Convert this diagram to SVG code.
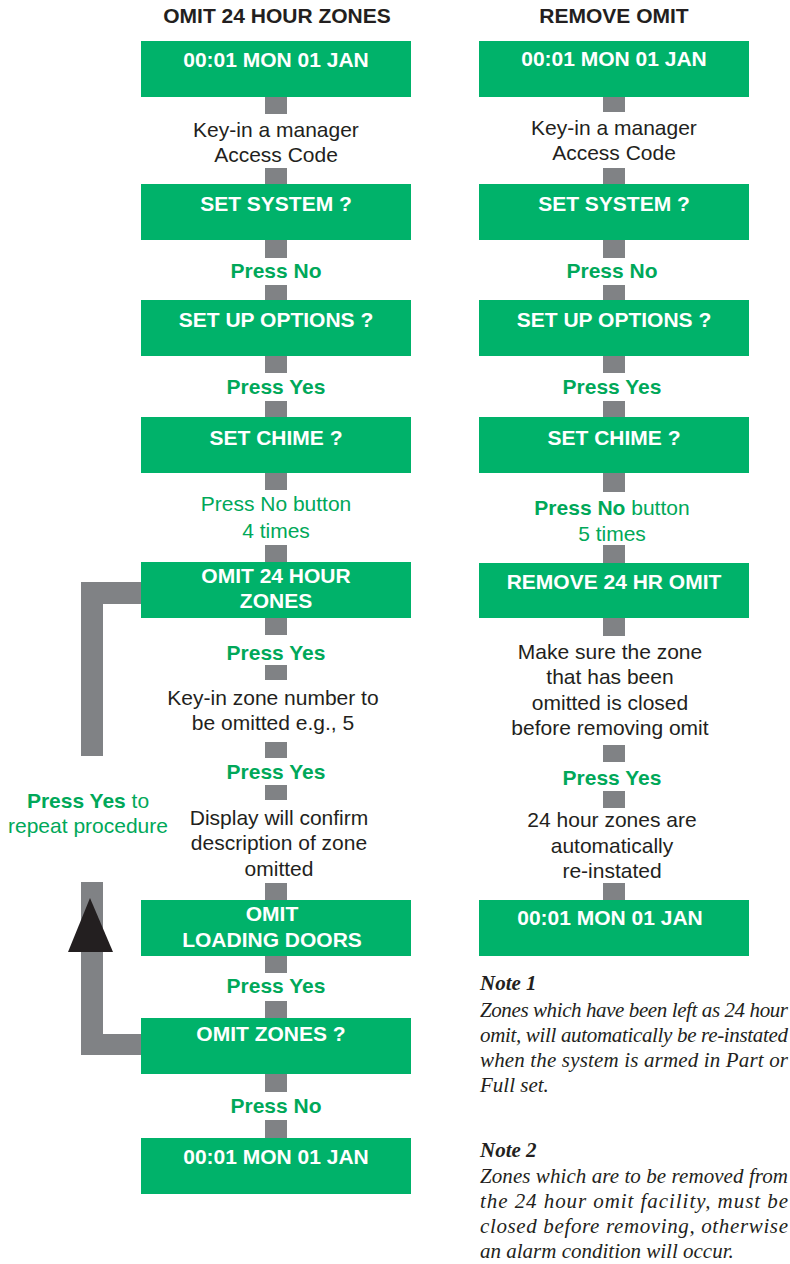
<svg xmlns="http://www.w3.org/2000/svg" width="790" height="1264" viewBox="0 0 790 1264">
<style>
.box{fill:#00b26a}
.conn{fill:#808285}
.bt{font-family:"Liberation Sans",Arial,sans-serif;font-weight:bold;font-size:21px;fill:#ffffff;text-anchor:middle}
.tt{font-family:"Liberation Sans",Arial,sans-serif;font-weight:bold;font-size:21px;fill:#231f20;text-anchor:middle}
.t{font-family:"Liberation Sans",Arial,sans-serif;font-size:21px;fill:#231f20;text-anchor:middle}
.g{font-family:"Liberation Sans",Arial,sans-serif;font-size:21px;fill:#00a859;text-anchor:middle}
.gb{font-family:"Liberation Sans",Arial,sans-serif;font-size:21px;font-weight:bold;fill:#00a859;text-anchor:middle}
.b{font-weight:bold}
.nh{font-family:"Liberation Serif","Times New Roman",serif;font-style:italic;font-weight:bold;font-size:21px;fill:#231f20}
.n{font-family:"Liberation Serif","Times New Roman",serif;font-style:italic;font-size:21px;fill:#231f20}
</style>
<rect width="790" height="1264" fill="#ffffff"/>

<g id="connectors">
  <!-- left column -->
  <rect class="conn" x="265" y="97" width="22" height="17"/>
  <rect class="conn" x="265" y="168" width="22" height="17"/>
  <rect class="conn" x="265" y="240" width="22" height="18"/>
  <rect class="conn" x="265" y="285" width="22" height="15"/>
  <rect class="conn" x="265" y="356" width="22" height="17"/>
  <rect class="conn" x="265" y="401" width="22" height="16"/>
  <rect class="conn" x="265" y="473" width="22" height="17"/>
  <rect class="conn" x="265" y="545" width="22" height="17"/>
  <rect class="conn" x="265" y="618" width="22" height="17"/>
  <rect class="conn" x="265" y="665" width="22" height="15"/>
  <rect class="conn" x="265" y="742" width="22" height="16"/>
  <rect class="conn" x="265" y="785" width="22" height="15"/>
  <rect class="conn" x="265" y="883" width="22" height="17"/>
  <rect class="conn" x="265" y="956" width="22" height="17"/>
  <rect class="conn" x="265" y="1001" width="22" height="17"/>
  <rect class="conn" x="265" y="1074" width="22" height="18"/>
  <rect class="conn" x="265" y="1120" width="22" height="18"/>
  <!-- right column -->
  <rect class="conn" x="603" y="97" width="22" height="15"/>
  <rect class="conn" x="603" y="168" width="22" height="16"/>
  <rect class="conn" x="603" y="240" width="22" height="18"/>
  <rect class="conn" x="603" y="285" width="22" height="15"/>
  <rect class="conn" x="603" y="356" width="22" height="17"/>
  <rect class="conn" x="603" y="401" width="22" height="16"/>
  <rect class="conn" x="603" y="473" width="22" height="19"/>
  <rect class="conn" x="603" y="545" width="22" height="18"/>
  <rect class="conn" x="603" y="618" width="22" height="18"/>
  <rect class="conn" x="603" y="745" width="22" height="17"/>
  <rect class="conn" x="603" y="791" width="22" height="17"/>
  <rect class="conn" x="603" y="883" width="22" height="17"/>
  <!-- repeat loop -->
  <path class="conn" d="M141,582 L81,582 L81,756 L103,756 L103,604 L141,604 Z"/>
  <path class="conn" d="M141,1034 L103,1034 L103,882 L81,882 L81,1055 L141,1055 Z"/>
  <polygon points="90,898 113,952 68,952" fill="#231f20"/>
</g>

<text class="tt" x="277" y="23">OMIT 24 HOUR ZONES</text>
<text class="tt" x="614" y="23">REMOVE OMIT</text>

<!-- left column nodes -->
<g id="l-box1"><rect class="box" x="141" y="41" width="270" height="56"/><text class="bt" x="276" y="67">00:01 MON 01 JAN</text></g>
<g id="l-step1"><text class="t" x="276" y="137">Key-in a manager</text><text class="t" x="276" y="162">Access Code</text></g>
<g id="l-box2"><rect class="box" x="141" y="184" width="270" height="56"/><text class="bt" x="276" y="211">SET SYSTEM ?</text></g>
<g id="l-step2"><text class="gb" x="276" y="278">Press No</text></g>
<g id="l-box3"><rect class="box" x="141" y="300" width="270" height="56"/><text class="bt" x="276" y="327">SET UP OPTIONS ?</text></g>
<g id="l-step3"><text class="gb" x="276" y="394">Press Yes</text></g>
<g id="l-box4"><rect class="box" x="141" y="417" width="270" height="56"/><text class="bt" x="276" y="445">SET CHIME ?</text></g>
<g id="l-step4"><text class="g" x="276" y="511">Press No button</text><text class="g" x="276" y="538">4 times</text></g>
<g id="l-box5"><rect class="box" x="141" y="562" width="270" height="56"/><text class="bt" x="276" y="583">OMIT 24 HOUR</text><text class="bt" x="276" y="608">ZONES</text></g>
<g id="l-step5"><text class="gb" x="276" y="660">Press Yes</text></g>
<g id="l-step6"><text class="t" x="273" y="705">Key-in zone number to</text><text class="t" x="273" y="730">be omitted e.g., 5</text></g>
<g id="l-step7"><text class="gb" x="276" y="779">Press Yes</text></g>
<g id="l-step8"><text class="t" x="279" y="825">Display will confirm</text><text class="t" x="279" y="850">description of zone</text><text class="t" x="279" y="876">omitted</text></g>
<g id="l-box6"><rect class="box" x="141" y="900" width="270" height="56"/><text class="bt" x="272" y="921">OMIT</text><text class="bt" x="272" y="947">LOADING DOORS</text></g>
<g id="l-step9"><text class="gb" x="276" y="993">Press Yes</text></g>
<g id="l-box7"><rect class="box" x="141" y="1018" width="270" height="56"/><text class="bt" x="271" y="1041">OMIT ZONES ?</text></g>
<g id="l-step10"><text class="gb" x="276" y="1113">Press No</text></g>
<g id="l-box8"><rect class="box" x="141" y="1138" width="270" height="56"/><text class="bt" x="276" y="1164">00:01 MON 01 JAN</text></g>
<g id="l-repeat"><text class="g" x="88" y="808"><tspan class="b">Press Yes</tspan> to</text><text class="g" x="88" y="833">repeat procedure</text></g>

<!-- right column nodes -->
<g id="r-box1"><rect class="box" x="479" y="41" width="270" height="56"/><text class="bt" x="614" y="66">00:01 MON 01 JAN</text></g>
<g id="r-step1"><text class="t" x="614" y="135">Key-in a manager</text><text class="t" x="614" y="160">Access Code</text></g>
<g id="r-box2"><rect class="box" x="479" y="184" width="270" height="56"/><text class="bt" x="614" y="211">SET SYSTEM ?</text></g>
<g id="r-step2"><text class="gb" x="612" y="278">Press No</text></g>
<g id="r-box3"><rect class="box" x="479" y="300" width="270" height="56"/><text class="bt" x="614" y="327">SET UP OPTIONS ?</text></g>
<g id="r-step3"><text class="gb" x="612" y="394">Press Yes</text></g>
<g id="r-box4"><rect class="box" x="479" y="417" width="270" height="56"/><text class="bt" x="614" y="445">SET CHIME ?</text></g>
<g id="r-step4"><text class="g" x="612" y="515"><tspan class="b">Press No</tspan> button</text><text class="g" x="612" y="541">5 times</text></g>
<g id="r-box5"><rect class="box" x="479" y="563" width="270" height="55"/><text class="bt" x="614" y="589">REMOVE 24 HR OMIT</text></g>
<g id="r-step5"><text class="t" x="610" y="659">Make sure the zone</text><text class="t" x="610" y="684">that has been</text><text class="t" x="610" y="710">omitted is closed</text><text class="t" x="610" y="735">before removing omit</text></g>
<g id="r-step6"><text class="gb" x="612" y="785">Press Yes</text></g>
<g id="r-step7"><text class="t" x="612" y="827">24 hour zones are</text><text class="t" x="612" y="853">automatically</text><text class="t" x="612" y="878">re-instated</text></g>
<g id="r-box6"><rect class="box" x="479" y="900" width="270" height="56"/><text class="bt" x="610" y="925">00:01 MON 01 JAN</text></g>

<!-- notes -->
<g id="note1">
  <text class="nh" x="480" y="990">Note 1</text>
  <text class="n" x="480" y="1017" textLength="308" lengthAdjust="spacing">Zones which have been left as 24 hour</text>
  <text class="n" x="480" y="1042" textLength="308" lengthAdjust="spacing">omit, will automatically be re-instated</text>
  <text class="n" x="480" y="1067" textLength="308" lengthAdjust="spacing">when the system is armed in Part or</text>
  <text class="n" x="480" y="1092">Full set.</text>
</g>
<g id="note2">
  <text class="nh" x="480" y="1157">Note 2</text>
  <text class="n" x="480" y="1183" textLength="308" lengthAdjust="spacing">Zones which are to be removed from</text>
  <text class="n" x="480" y="1208" textLength="308" lengthAdjust="spacing">the 24 hour omit facility, must be</text>
  <text class="n" x="480" y="1233" textLength="308" lengthAdjust="spacing">closed before removing, otherwise</text>
  <text class="n" x="480" y="1258">an alarm condition will occur.</text>
</g>
</svg>
